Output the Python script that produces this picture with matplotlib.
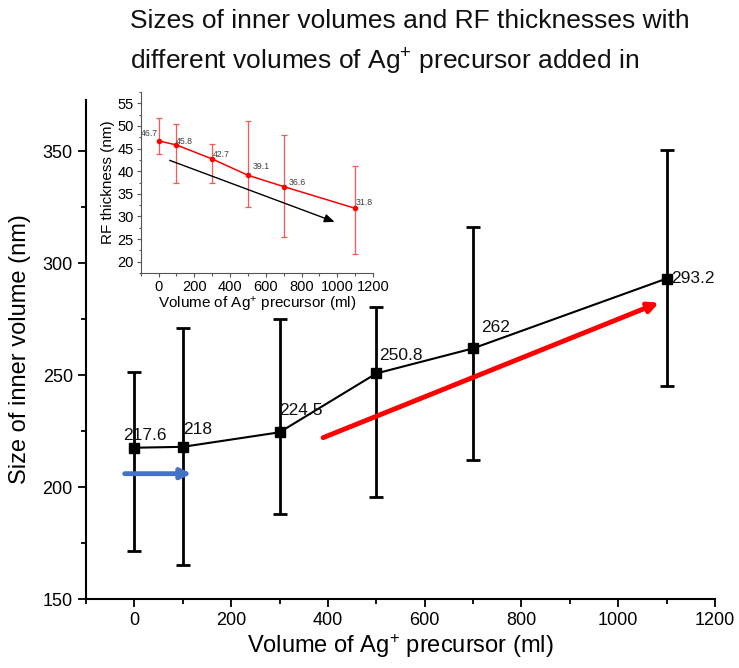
import matplotlib
matplotlib.use("Agg")
import matplotlib.pyplot as plt
from matplotlib.ticker import MultipleLocator

plt.rcParams['font.family'] = ['Liberation Sans', 'DejaVu Sans']
plt.rcParams['mathtext.fontset'] = 'custom'
plt.rcParams['mathtext.rm'] = 'Liberation Sans'
plt.rcParams['mathtext.it'] = 'Liberation Sans:italic'

# main chart: inner volume size
volume = [0, 100, 300, 500, 700, 1100]
inner_size = [217.6, 218, 224.5, 250.8, 262, 293.2]
inner_upper = [251.4, 271, 275, 280.6, 316.3, 350.8]
inner_lower = [171.4, 165, 188.1, 195.8, 212.2, 245]
inner_labels = ['217.6', '218', '224.5', '250.8', '262', '293.2']

# inset chart: RF thickness
rf_thick = [46.7, 45.8, 42.7, 39.1, 36.6, 31.8]
rf_upper = [51.8, 50.45, 46.05, 51.2, 48.0, 41.1]
rf_lower = [43.85, 37.3, 37.5, 32.0, 25.4, 21.8]
rf_labels = ['46.7', '45.8', '42.7', '39.1', '36.6', '31.8']

# trend arrows (start, end) in data units
blue_arrow = [(-20, 206), (118, 206)]
red_arrow = [(390, 222.1), (1084, 282.4)]
inset_arrow = [(62, 42.4), (985, 28.8)]

xlabel = 'Volume of Ag$^{+}$ precursor (ml)'
title = ('Sizes of inner volumes and RF thicknesses with\n'
         'different volumes of Ag$^{+}$ precursor added in')


def err(vals, upper, lower):
    return [[v - lo for v, lo in zip(vals, lower)],
            [up - v for v, up in zip(vals, upper)]]


fig = plt.figure(figsize=(7.39, 6.68), dpi=100)
ax = fig.add_axes([86 / 739, 1 - 599 / 668, (715 - 86) / 739, (599 - 100) / 668])

ax.errorbar(volume, inner_size, yerr=err(inner_size, inner_upper, inner_lower),
            color='black', lw=1.5, marker='s', markersize=7.5,
            ecolor='black', elinewidth=2, capsize=5, capthick=2)

offsets = [(10.7, 12), (14.5, 17), (21.3, 22), (24.3, 18), (22.3, 21), (26, 0)]
for x, y, lab, off in zip(volume, inner_size, inner_labels, offsets):
    ax.annotate(lab, (x, y), xytext=off, textcoords='offset pixels',
                ha='center', va='center', fontsize=12.5, color='#111111')

ax.annotate('', xy=blue_arrow[1], xytext=blue_arrow[0],
            arrowprops=dict(arrowstyle='-|>,head_length=0.6,head_width=0.3',
                            color='#4472C4', lw=3.5, shrinkA=0, shrinkB=0))
ax.annotate('', xy=red_arrow[1], xytext=red_arrow[0],
            arrowprops=dict(arrowstyle='-|>,head_length=0.6,head_width=0.3',
                            color='#FF0000', lw=3.5, shrinkA=0, shrinkB=0))

ax.set_xlim(-100, 1200)
ax.set_ylim(150, 373)
ax.xaxis.set_major_locator(MultipleLocator(200))
ax.xaxis.set_minor_locator(MultipleLocator(100))
ax.yaxis.set_major_locator(MultipleLocator(50))
ax.yaxis.set_minor_locator(MultipleLocator(25))
ax.tick_params(which='major', direction='out', length=6, width=1.3, labelsize=13)
ax.tick_params(which='minor', direction='out', length=3.5, width=1.3)
for side in ['top', 'right']:
    ax.spines[side].set_visible(False)
for side in ['left', 'bottom']:
    ax.spines[side].set_linewidth(1.5)
ax.set_xlabel(xlabel, fontsize=17, labelpad=2)
ax.set_ylabel('Size of inner volume (nm)', fontsize=17, labelpad=8)

fig.text(130 / 739, 1 - 9 / 668, title, fontsize=19, ha='left', va='top',
         linespacing=1.6, color='#111111')

# inset
ins = fig.add_axes([140.7 / 739, 1 - 273 / 668, (373 - 140.7) / 739, (273 - 92) / 668])
ins.patch.set_alpha(0)
ins.errorbar(volume, rf_thick, yerr=err(rf_thick, rf_upper, rf_lower),
             color='#FF0000', lw=1.1, marker='o', markersize=3,
             ecolor='#FF5555', elinewidth=0.9, capsize=2.5, capthick=0.9)

in_offsets = [(-8.7, 7.7), (8, 3), (8.7, 4.3), (13, 8.7), (13.7, 4.3), (8.7, 6)]
for x, y, lab, off in zip(volume, rf_thick, rf_labels, in_offsets):
    ins.annotate(lab, (x, y), xytext=off, textcoords='offset pixels',
                 ha='center', va='center', fontsize=6.3, color='#404040')

ins.annotate('', xy=inset_arrow[1], xytext=inset_arrow[0],
             arrowprops=dict(arrowstyle='-|>,head_length=0.6,head_width=0.25',
                             color='black', lw=1, shrinkA=0, shrinkB=0))

ins.set_xlim(-100, 1200)
ins.set_ylim(17.5, 57.5)
ins.xaxis.set_major_locator(MultipleLocator(200))
ins.xaxis.set_minor_locator(MultipleLocator(100))
ins.yaxis.set_major_locator(MultipleLocator(5))
ins.yaxis.set_minor_locator(MultipleLocator(2.5))
ins.tick_params(which='major', direction='out', length=3, width=0.8, labelsize=10.5, pad=2,
                color='#555555')
ins.tick_params(which='minor', direction='out', length=1.8, width=0.8, color='#555555')
for side in ['top', 'right']:
    ins.spines[side].set_visible(False)
for side in ['left', 'bottom']:
    ins.spines[side].set_linewidth(0.8)
    ins.spines[side].set_color('#555555')
ins.set_xlabel(xlabel, fontsize=11, labelpad=1)
ins.set_ylabel('RF thickness (nm)', fontsize=11, labelpad=2)

fig.savefig('out.png', dpi=100)
